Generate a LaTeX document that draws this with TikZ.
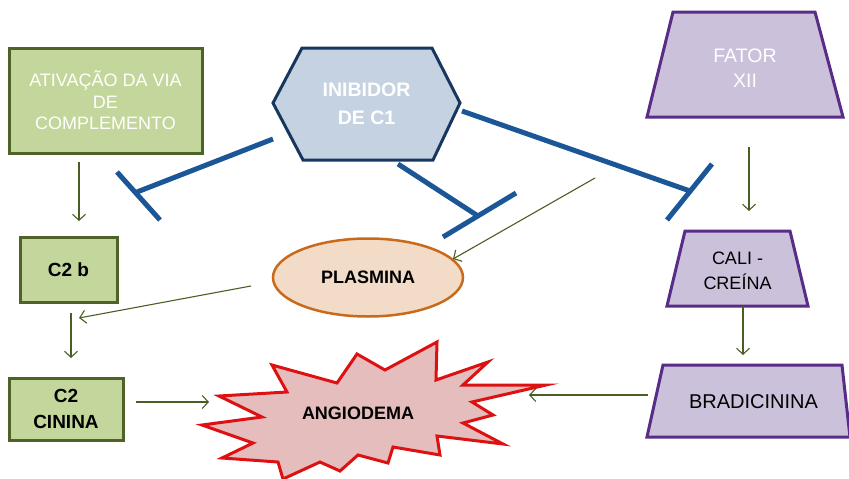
\documentclass[tikz,border=0pt]{standalone}
\usepackage{fontspec}
\setmainfont{Liberation Sans}
\usetikzlibrary{arrows.meta,shapes.geometric}
\definecolor{gfill}{HTML}{C3D69B}
\definecolor{gline}{HTML}{4F6228}
\definecolor{hfill}{HTML}{C5D2E2}
\definecolor{hline}{HTML}{17375E}
\definecolor{pfill}{HTML}{CCC1DA}
\definecolor{pline}{HTML}{582C87}
\definecolor{efill}{HTML}{F2DBC7}
\definecolor{eline}{HTML}{C96A1A}
\definecolor{sfill}{HTML}{E5BDBC}
\definecolor{sline}{HTML}{DD1111}
\definecolor{inhc}{HTML}{1B5796}
\definecolor{arrc}{HTML}{4A5E23}
\begin{document}
\begin{tikzpicture}[x=1pt,y=-1pt,
  gbox/.style={draw=gline, fill=gfill, line width=3pt, inner sep=0pt, align=center},
  hexa/.style={draw=hline, fill=hfill, line width=3pt, line join=miter},
  trap/.style={draw=pline, fill=pfill, line width=3pt, line join=miter},
  burst/.style={draw=sline, fill=sfill, line width=3pt, line join=miter},
  lbl/.style={inner sep=0pt, align=center},
  garrow/.style={draw=arrc, line width=1.1pt, -{Straight Barb[length=6pt,width=13pt,line width=1.1pt]}},
  inh/.style={draw=inhc, line width=5pt}
]
\useasboundingbox (0,0) rectangle (849,479);

% green boxes
\node[gbox, minimum width=193pt, minimum height=105pt, text=white,
      font=\fontsize{18}{21.5}\selectfont] (ativ) at (105.5,100.5)
      {ATIVAÇÃO DA VIA\\DE\\COMPLEMENTO};
\node[gbox, minimum width=97pt, minimum height=65pt,
      font=\fontsize{19}{22}\bfseries] (c2b) at (68.5,269.5) {C2 b};
\node[gbox, minimum width=114pt, minimum height=62pt,
      font=\fontsize{19}{26.5}\bfseries] (c2c) at (66,409) {C2\\CININA};

% hexagon
\draw[hexa] (273,103) -- (302,48) -- (432,48) -- (460,103) -- (433,160) -- (303,160) -- cycle;
\node[lbl, text=white, font=\fontsize{19.5}{28}\bfseries] (inib) at (366.5,104) {INIBIDOR\\DE C1};

% purple trapezoids
\draw[trap] (673,12) -- (815,12) -- (843,117) -- (647,117) -- cycle;
\node[lbl, text=white, font=\fontsize{19.5}{24.5}\selectfont] (fator) at (745,68) {FATOR\\XII};
\draw[trap] (685,231) -- (790,231) -- (808,306) -- (667,306) -- cycle;
\node[lbl, font=\fontsize{18}{25}\selectfont] (cali) at (737.5,271) {CALI -\\CREÍNA};
\draw[trap] (663,365) -- (842,365) -- (850,437) -- (647,437) -- cycle;
\node[lbl, font=\fontsize{20}{24}\selectfont] (brad) at (753.5,402) {BRADICININA};

% plasmina
\node[ellipse, draw=eline, fill=efill, line width=2.5pt, minimum width=190pt,
      minimum height=78pt, inner sep=0pt, font=\fontsize{18}{22}\bfseries] (plas) at (368,277.5) {PLASMINA};

% starburst
\draw[burst] (219,396) -- (287,392) -- (272,365) -- (337,383) -- (357,354) -- (385,370)
  -- (437,342) -- (436,380) -- (488,362) -- (463,385) -- (546,385) -- (472,402)
  -- (493,415) -- (463,423) -- (503,444) -- (437,436) -- (440,455) -- (393,447)
  -- (388,463) -- (358,455) -- (340,471) -- (320,462) -- (283,479) -- (278,462)
  -- (222,458) -- (253,443) -- (202,425) -- (262,417) -- cycle;
\node[lbl, font=\fontsize{18}{22}\bfseries] (angio) at (358,413) {ANGIODEMA};

% arrow end points
\coordinate (a1s) at (79,162);  \coordinate (a1e) at (79,221);
\coordinate (a2s) at (71,313);  \coordinate (a2e) at (71,358);
\coordinate (a3s) at (251,286); \coordinate (a3e) at (79,318);
\coordinate (a4s) at (136,402); \coordinate (a4e) at (209,402);
\coordinate (a5s) at (595,178); \coordinate (a5e) at (453,259);
\coordinate (a6s) at (749,147); \coordinate (a6e) at (749,211);
\coordinate (a7s) at (743,306); \coordinate (a7e) at (743,355);
\coordinate (a8s) at (648,395); \coordinate (a8e) at (529,395);

\draw[garrow] (a1s) -- (a1e);
\draw[garrow] (a2s) -- (a2e);
\draw[garrow] (a3s) -- (a3e);
\draw[garrow] (a4s) -- (a4e);
\draw[garrow] (a5s) -- (a5e);
\draw[garrow] (a6s) -- (a6e);
\draw[garrow] (a7s) -- (a7e);
\draw[garrow] (a8s) -- (a8e);

% inhibition lines
\coordinate (i1s) at (273,139); \coordinate (i1e) at (137,192);
\coordinate (b1a) at (117,172); \coordinate (b1b) at (160,220);
\coordinate (i2s) at (398,164); \coordinate (i2e) at (478,216);
\coordinate (b2a) at (443,237); \coordinate (b2b) at (516,193);
\coordinate (i3s) at (462,111); \coordinate (i3e) at (690,191);
\coordinate (b3a) at (667,220); \coordinate (b3b) at (712,164);

\draw[inh] (i1s) -- (i1e);
\draw[inh] (b1a) -- (b1b);
\draw[inh] (i2s) -- (i2e);
\draw[inh] (b2a) -- (b2b);
\draw[inh] (i3s) -- (i3e);
\draw[inh] (b3a) -- (b3b);
\end{tikzpicture}
\end{document}
